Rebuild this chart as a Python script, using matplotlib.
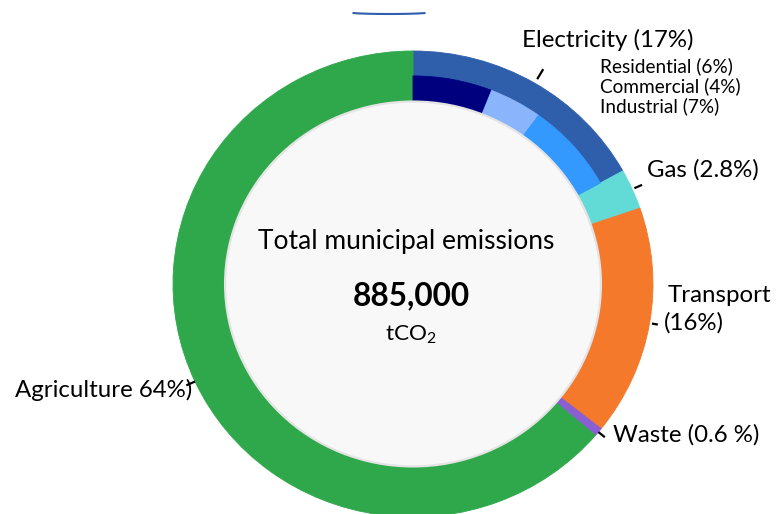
import numpy as np
import matplotlib
matplotlib.use('Agg')
import matplotlib.pyplot as plt
from matplotlib.patches import Arc

plt.rcParams['font.family'] = ['Lato', 'DejaVu Sans']
plt.rcParams['mathtext.fontset'] = 'custom'
plt.rcParams['mathtext.rm'] = 'Lato'

# main sectors (share of total, %)
sectors = ['Electricity', 'Gas', 'Transport', 'Waste', 'Agriculture']
shares = [17, 2.8, 16, 0.6, 64]
sector_labels = ['Electricity (17%)', 'Gas (2.8%)', 'Transport\n(16%)',
                 'Waste (0.6 %)', 'Agriculture 64%)']
sector_colors = ['#2f5eab', '#62dbd6', '#f5792b', '#8a5fd1', '#2ea84a']

# electricity split
elec_parts = ['Residential', 'Commercial', 'Industrial']
elec_shares = [6, 4, 7]
elec_labels = ['Residential (6%)', 'Commercial (4%)', 'Industrial (7%)']
elec_colors = ['#00007f', '#8ab4fb', '#3399fe']

total_text = 'Total municipal emissions'
total_value = '885,000'
total_unit = 'tCO$_2$'

W, H = 784, 514
CX, CY = 413, 284          # ring centre in pixels (from top)
RX, RY = 240, 233          # outer radius in pixels


def px(x, y):
    return (x - CX) / RX, (CY - y) / RY


fig = plt.figure(figsize=(W / 100, H / 100), dpi=100)
ax = fig.add_axes([0, 0, 1, 1])

wedges, _ = ax.pie(shares, colors=sector_colors, startangle=90, counterclock=False,
                   radius=1.0, wedgeprops=dict(width=0.217, linewidth=0.6))
for w in wedges:
    w.set_edgecolor(w.get_facecolor())

rest = sum(shares) - sum(elec_shares)
sub, _ = ax.pie(elec_shares + [rest], colors=elec_colors + ['none'], startangle=90,
                counterclock=False, radius=0.893,
                wedgeprops=dict(width=0.11, linewidth=0.6))
for w in sub[:-1]:
    w.set_edgecolor(w.get_facecolor())
sub[-1].set_edgecolor('none')

ax.pie([1], colors=['#f8f8f8'], radius=0.783,
       wedgeprops=dict(edgecolor='#e4e4e4', linewidth=1.6))

ax.set_aspect('auto')
ax.set_xlim(-CX / RX, (W - CX) / RX)
ax.set_ylim(-(H - CY) / RY, CY / RY)
ax.axis('off')

# small stray arc at the top
x0, y0 = px(389, 12)
ax.add_patch(Arc((x0, y0), 84 / RX, 4 / RY, theta1=181.6, theta2=358.4,
                 color='#2f5eab', lw=1.5))

# leader ticks
tick_r = [(1.02, 1.07), (1.01, 1.045), (1.01, 1.035), (1.0, 1.035), (1.0, 1.04)]
for w, (r1, r2) in zip(wedges, tick_r):
    a = np.deg2rad((w.theta1 + w.theta2) / 2)
    ax.plot([r1 * np.cos(a), r2 * np.cos(a)], [r1 * np.sin(a), r2 * np.sin(a)],
            color='black', lw=1.6, solid_capstyle='butt')

renderer = fig.canvas.get_renderer()


def fit(t, width):
    w = t.get_window_extent(renderer).width
    t.set_fontsize(t.get_fontsize() * width / w)
    return t.get_fontsize()


# sector labels: left x, baseline y (pixels)
label_pos = [(522, 47), (647, 177), (668, 302), (613, 442), (15, 397)]
t = ax.text(*px(*label_pos[0]), sector_labels[0], fontsize=14, va='baseline')
size = fit(t, 171)
for lab, (lx, ly) in zip(sector_labels[1:], label_pos[1:]):
    for i, line in enumerate(lab.split('\n')):
        dx = -4 if i else 0
        ax.text(*px(lx + dx, ly + 28 * i), line, fontsize=size, va='baseline')

sub_pos = [(600, 72), (600, 92), (600, 112)]
t = ax.text(*px(*sub_pos[1]), elec_labels[1], fontsize=10, va='baseline')
ssize = fit(t, 141)
for lab, (lx, ly) in zip([elec_labels[0], elec_labels[2]], [sub_pos[0], sub_pos[2]]):
    ax.text(*px(lx, ly), lab, fontsize=ssize, va='baseline')

t = ax.text(*px(406, 249), total_text, fontsize=16, ha='center', va='baseline')
fit(t, 297)
t = ax.text(*px(411, 305), total_value, fontsize=20, ha='center', va='baseline',
            fontweight='bold')
fit(t, 118)
t = ax.text(*px(411, 340), total_unit, fontsize=14, ha='center', va='baseline')
fit(t, 52)

fig.savefig('out.png', dpi=100)
